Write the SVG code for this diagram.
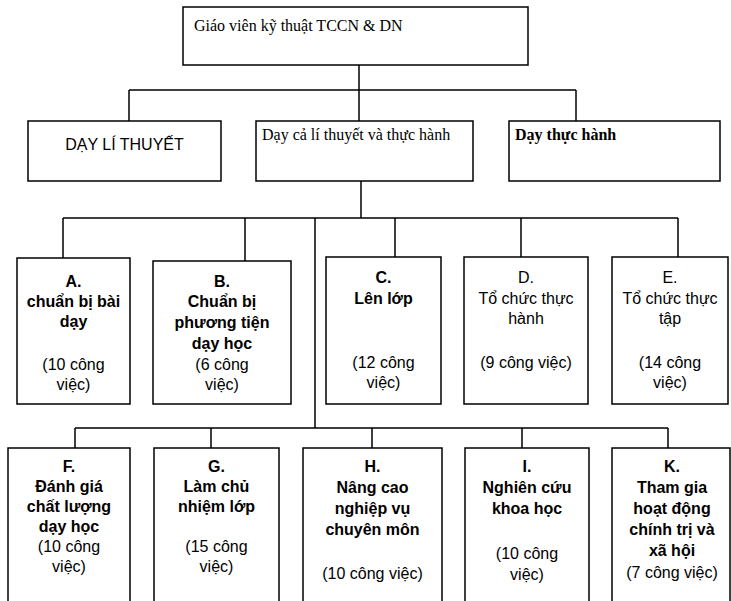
<svg xmlns="http://www.w3.org/2000/svg" width="731" height="601" viewBox="0 0 731 601">
<style>
.box{fill:#fff;stroke:#000;stroke-width:1.5}
.ln{fill:none;stroke:#000;stroke-width:1.5}
.s{font-family:"Liberation Sans",Arial,sans-serif;font-size:16px;fill:#000;text-anchor:middle}
.b{font-weight:bold}
.sr{font-family:"Liberation Serif","Times New Roman",serif;font-size:16px;fill:#000}
</style>
<rect width="731" height="601" fill="#fff"/>
<g id="connectors">
<path class="ln" d="M359,65V121M129,90H576M129,90V121M576,90V121"/>
<path class="ln" d="M361,181V218M63,218H678M63,218V258M245,218V261M395,218V257M521,218V257M678,218V257M315,218V428"/>
<path class="ln" d="M75,428H668M75,428V448M211,428V448M372,428V448M522,428V448M668,428V448"/>
</g>
<g id="root">
<rect class="box" x="183" y="7" width="345" height="58"/>
<text class="sr" x="194" y="31">Giáo viên kỹ thuật TCCN &amp; DN</text>
</g>
<g id="ly-thuyet">
<rect class="box" x="28" y="121" width="193" height="60"/>
<text class="s" x="124.5" y="150">DẠY LÍ THUYẾT</text>
</g>
<g id="ca-hai">
<rect class="box" x="256" y="121" width="217" height="60"/>
<text class="sr" x="262" y="140">Dạy cả lí thuyết và thực hành</text>
</g>
<g id="thuc-hanh">
<rect class="box" x="509" y="121" width="211" height="60"/>
<text class="sr b" x="515" y="140">Dạy thực hành</text>
</g>
<g id="A">
<rect class="box" x="17" y="258" width="113" height="146"/>
<text class="s b" x="73.5" y="287">A.</text>
<text class="s b" x="73.5" y="307">chuẩn bị bài</text>
<text class="s b" x="73.5" y="327">dạy</text>
<text class="s" x="73.5" y="370">(10 công</text>
<text class="s" x="73.5" y="390">việc)</text>
</g>
<g id="B">
<rect class="box" x="153" y="261" width="138" height="143"/>
<text class="s b" x="222" y="287">B.</text>
<text class="s b" x="222" y="307">Chuẩn bị</text>
<text class="s b" x="222" y="328">phương tiện</text>
<text class="s b" x="222" y="349">dạy học</text>
<text class="s" x="222" y="370">(6 công</text>
<text class="s" x="222" y="390">việc)</text>
</g>
<g id="C">
<rect class="box" x="326" y="257" width="115" height="147"/>
<text class="s b" x="383.5" y="283">C.</text>
<text class="s b" x="383.5" y="304">Lên lớp</text>
<text class="s" x="383.5" y="368">(12 công</text>
<text class="s" x="383.5" y="388">việc)</text>
</g>
<g id="D">
<rect class="box" x="464" y="257" width="124" height="147"/>
<text class="s" x="526" y="283">D.</text>
<text class="s" x="526" y="304">Tổ chức thực</text>
<text class="s" x="526" y="324">hành</text>
<text class="s" x="526" y="368">(9 công việc)</text>
</g>
<g id="E">
<rect class="box" x="612" y="257" width="116" height="147"/>
<text class="s" x="670" y="283">E.</text>
<text class="s" x="670" y="304">Tổ chức thực</text>
<text class="s" x="670" y="324">tập</text>
<text class="s" x="670" y="368">(14 công</text>
<text class="s" x="670" y="388">việc)</text>
</g>
<g id="F">
<rect class="box" x="8" y="448" width="122" height="170"/>
<text class="s b" x="69" y="472">F.</text>
<text class="s b" x="69" y="492">Đánh giá</text>
<text class="s b" x="69" y="512">chất lượng</text>
<text class="s b" x="69" y="532">dạy học</text>
<text class="s" x="69" y="552">(10 công</text>
<text class="s" x="69" y="572">việc)</text>
</g>
<g id="G">
<rect class="box" x="154" y="448" width="125" height="170"/>
<text class="s b" x="216.5" y="472">G.</text>
<text class="s b" x="216.5" y="492">Làm chủ</text>
<text class="s b" x="216.5" y="512">nhiệm lớp</text>
<text class="s" x="216.5" y="552">(15 công</text>
<text class="s" x="216.5" y="572">việc)</text>
</g>
<g id="H">
<rect class="box" x="303" y="448" width="139" height="170"/>
<text class="s b" x="372.5" y="472">H.</text>
<text class="s b" x="372.5" y="493">Nâng cao</text>
<text class="s b" x="372.5" y="514">nghiệp vụ</text>
<text class="s b" x="372.5" y="535">chuyên môn</text>
<text class="s" x="372.5" y="579">(10 công việc)</text>
</g>
<g id="I">
<rect class="box" x="465" y="448" width="124" height="170"/>
<text class="s b" x="527" y="472">I.</text>
<text class="s b" x="527" y="493">Nghiên cứu</text>
<text class="s b" x="527" y="514">khoa học</text>
<text class="s" x="527" y="559">(10 công</text>
<text class="s" x="527" y="580">việc)</text>
</g>
<g id="K">
<rect class="box" x="612" y="448" width="118" height="170"/>
<text class="s b" x="672" y="472">K.</text>
<text class="s b" x="672" y="493">Tham gia</text>
<text class="s b" x="672" y="514">hoạt động</text>
<text class="s b" x="672" y="535">chính trị và</text>
<text class="s b" x="672" y="556">xã hội</text>
<text class="s" x="672" y="578">(7 công việc)</text>
</g>
</svg>
